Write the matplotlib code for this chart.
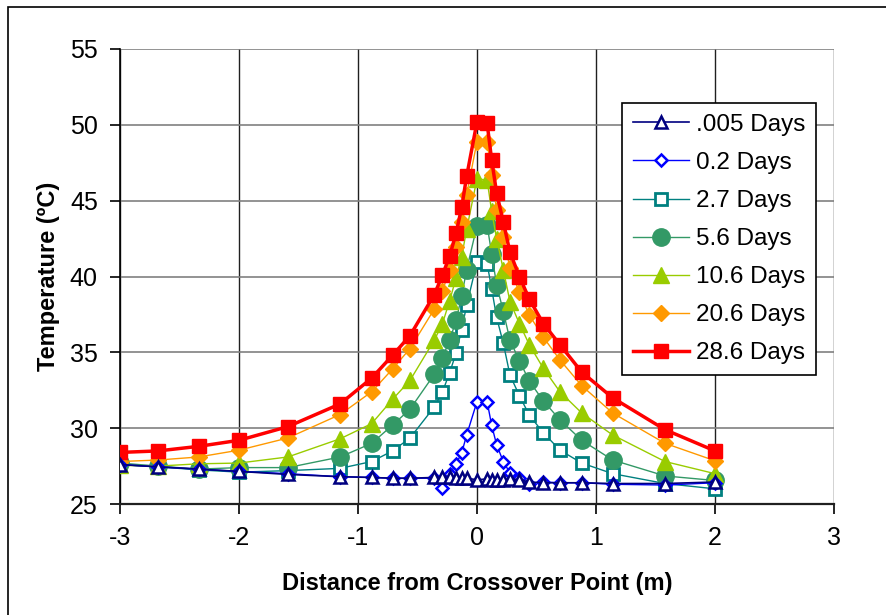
import matplotlib
matplotlib.use("Agg")
import matplotlib.pyplot as plt
from matplotlib.patches import Rectangle

# ---- data ----
x_pos = [-3.0, -2.68, -2.34, -2.0, -1.59, -1.15, -0.885, -0.71, -0.563, -0.359,
         -0.29, -0.23, -0.176, -0.129, -0.087, 0.0, 0.085, 0.123, 0.165, 0.221,
         0.277, 0.356, 0.44, 0.557, 0.697, 0.88, 1.14, 1.58, 2.0]

t_0005 = [27.6, 27.45, 27.3, 27.15, 26.95, 26.8, 26.75, 26.7, 26.7, 26.75,
          26.75, 26.75, 26.7, 26.7, 26.7, 26.6, 26.65, 26.6, 26.6, 26.6,
          26.65, 26.6, 26.45, 26.4, 26.4, 26.4, 26.35, 26.35, 26.45]
t_02 = [27.6, 27.45, 27.3, 27.15, 27.0, 26.8, 26.75, 26.7, 26.7, 26.7,
        26.05, 26.95, 27.65, 28.35, 29.55, 31.75, 31.75, 30.2, 28.9, 27.8,
        27.05, 26.7, 26.35, 26.45, 26.4, 26.4, 26.3, 26.25, 26.4]
t_27 = [27.6, 27.45, 27.25, 27.1, 27.2, 27.35, 27.8, 28.5, 29.35, 31.4,
        32.4, 33.65, 34.95, 36.5, 38.1, 40.95, 40.85, 39.2, 37.3, 35.6,
        33.5, 32.15, 30.85, 29.7, 28.55, 27.7, 27.0, 26.35, 26.0]
t_56 = [27.7, 27.5, 27.3, 27.4, 27.4, 28.1, 29.0, 30.2, 31.25, 33.55,
        34.65, 35.8, 37.1, 38.7, 40.45, 43.35, 43.4, 41.5, 39.45, 37.7,
        35.8, 34.45, 33.1, 31.8, 30.55, 29.2, 27.9, 26.85, 26.55]
t_106 = [27.55, 27.5, 27.65, 27.7, 28.1, 29.3, 30.3, 31.9, 33.15, 35.8,
         36.9, 38.4, 39.9, 41.3, 43.1, 46.45, 46.35, 44.3, 42.5, 40.45,
         38.35, 36.9, 35.5, 33.95, 32.4, 31.0, 29.55, 27.8, 27.0]
t_206 = [27.8, 27.9, 28.1, 28.55, 29.35, 30.9, 32.4, 33.9, 35.25, 37.85,
         39.05, 40.45, 41.95, 43.6, 45.4, 48.9, 48.9, 46.7, 44.4, 42.6,
         40.55, 38.95, 37.45, 36.0, 34.5, 32.8, 31.0, 29.0, 27.85]
t_286 = [28.4, 28.5, 28.8, 29.2, 30.1, 31.6, 33.3, 34.8, 36.1, 38.8,
         40.1, 41.35, 42.85, 44.55, 46.6, 50.2, 50.1, 47.7, 45.5, 43.6,
         41.6, 40.0, 38.5, 36.9, 35.5, 33.7, 32.0, 29.9, 28.5]

labels = [".005 Days", "0.2 Days", "2.7 Days", "5.6 Days", "10.6 Days", "20.6 Days", "28.6 Days"]
x_ticks = [-3, -2, -1, 0, 1, 2, 3]
y_ticks = [25, 30, 35, 40, 45, 50, 55]

plt.rcParams['font.family'] = ['Liberation Sans', 'DejaVu Sans']

fig = plt.figure(figsize=(8.86, 6.15), dpi=100)
ax = fig.add_axes([120/886, 1-504/615, 714/886, 455/615])

styles = [
    dict(color='#000080', lw=1.2, marker='^', ms=8, mfc='white', mec='#000080', mew=1.8),
    dict(color='#0000FF', lw=1.0, marker='D', ms=6.5, mfc='white', mec='#0000FF', mew=1.8),
    dict(color='#008080', lw=1.0, marker='s', ms=9, mfc='white', mec='#008080', mew=2.0),
    dict(color='#339966', lw=1.0, marker='o', ms=12.5, mfc='#339966', mec='#339966'),
    dict(color='#99CC00', lw=1.0, marker='^', ms=11, mfc='#99CC00', mec='#99CC00'),
    dict(color='#FF9900', lw=1.0, marker='D', ms=8.5, mfc='#FF9900', mec='#FF9900'),
    dict(color='#FF0000', lw=2.5, marker='s', ms=10.5, mfc='#FF0000', mec='#FF0000'),
]
series = [t_0005, t_02, t_27, t_56, t_106, t_206, t_286]
order = [2, 3, 4, 5, 6, 1, 0]  # draw low-lying series on top
handles = [None] * 7
for i in order:
    h, = ax.plot(x_pos, series[i], label=labels[i], zorder=3 + order.index(i), **styles[i])
    handles[i] = h

ax.set_xlim(-3, 3)
ax.set_ylim(25, 55)
ax.set_xticks(x_ticks)
ax.set_yticks(y_ticks)
ax.set_xticklabels([str(v) for v in x_ticks])
ax.set_yticklabels([str(v) for v in y_ticks])
ax.tick_params(axis='both', labelsize=18, direction='out', length=7, width=1.2, color='black')
ax.tick_params(axis='x', pad=9)
ax.tick_params(axis='y', pad=9)

ax.grid(axis='y', color='#808080', lw=1.2, zorder=0)
ax.grid(axis='x', color='#202020', lw=1.0, zorder=0)
ax.set_axisbelow(True)
for s in ['top', 'right']:
    ax.spines[s].set_visible(False)
ax.spines['left'].set_linewidth(1.2)
ax.spines['bottom'].set_linewidth(1.6)
ax.spines['bottom'].set_color('#202020')

ax.set_xlabel("Distance from Crossover Point (m)", fontsize=17, fontweight='bold', labelpad=16)
ax.set_ylabel("Temperature (ºC)", fontsize=17, fontweight='bold', labelpad=7)

leg = ax.legend(handles=handles, loc='upper left', bbox_to_anchor=((622-120)/714, (504-103)/455),
                borderaxespad=0, fontsize=17.5, frameon=True, fancybox=False, edgecolor='black',
                framealpha=1, handlelength=2.3, handletextpad=0.3, labelspacing=0.66,
                borderpad=0.45, markerscale=1.0)
leg.get_frame().set_linewidth(1.2)
leg.set_zorder(20)

fig.patches.append(Rectangle((8/886, -0.5), 2, 0.5 + 1 - 7/615, transform=fig.transFigure,
                             fill=False, edgecolor='black', lw=1.2))

fig.savefig("out.png", dpi=100)
